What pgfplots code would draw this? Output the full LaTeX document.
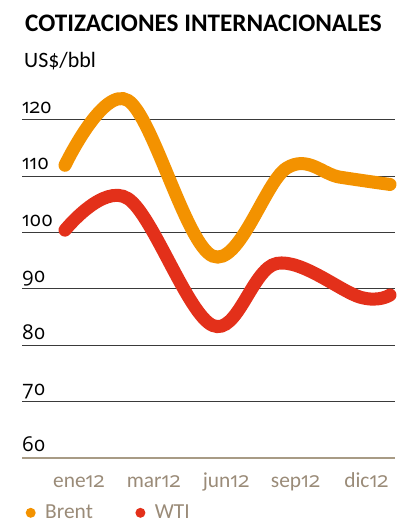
\documentclass[border=0pt]{standalone}
\usepackage{pgfplots}
\pgfplotsset{compat=1.18}
\usepackage{fontspec}
\setmainfont{Carlito}
\newfontfamily\osfa{Open Sans}[Numbers=OldStyle]
\definecolor{brent}{HTML}{F39200}
\definecolor{wti}{HTML}{E3301A}
\definecolor{tan}{HTML}{9A8B78}
\definecolor{tanline}{HTML}{A89B85}
\definecolor{gridc}{HTML}{3A3A3A}
\begin{document}
\begin{tikzpicture}[x=1bp,y=1bp]
\useasboundingbox (0,0) rectangle (398,525);
\node[anchor=base west,inner sep=0,font=\fontsize{25.3}{26}\selectfont\bfseries] at (25,493) {COTIZACIONES INTERNACIONALES};
\node[anchor=base west,inner sep=0,font=\fontsize{22}{24}\selectfont] at (24,457) {US\$/bbl};
\begin{axis}[
  at={(22bp,67bp)}, anchor=south west,
  scale only axis, width=373bp, height=366.6bp,
  xmin=-1.455, xmax=11.17, ymin=60, ymax=125,
  axis line style={draw=none},
  ytick={60,70,80,90,100,110,120},
  ymajorgrids, major grid style={gridc, line width=0.8bp},
  major tick length=0pt,
  yticklabel style={anchor=base west, inner sep=0pt, xshift=0bp, yshift=6bp, font=\osfa\fontsize{20.5}{22}\selectfont, text=black},
  yticklabel={\pgfmathprintnumber[assume math mode=true]{\tick}},
  xtick={0.47,3.0,5.45,7.8,10.2},
  xticklabels={ene{\osfa 12},mar{\osfa 12},jun{\osfa 12},sep{\osfa 12},dic{\osfa 12}},
  xticklabel style={anchor=base, inner sep=0pt, yshift=-30bp, font=\fontsize{21.5}{22}\selectfont, text=tan},
  clip=false,
  legend columns=2,
  legend style={draw=none, fill=none, at={(0,0)}, anchor=north west, xshift=-3bp, yshift=-45bp, font=\fontsize{21.5}{22}\selectfont, nodes={text=tan}, inner sep=0pt, /tikz/every even column/.append style={column sep=34bp}},
  legend image code/.code={\path (-5bp,0bp) (6bp,0bp); \fill[#1, draw=none] (0bp,0bp) circle (5bp);},
]
\addplot[tanline, line width=2.2bp, forget plot] coordinates {(-1.455,60) (11.17,60)};
\addplot[brent, line width=13bp, smooth, tension=0.6, line cap=round] coordinates {
(0,111.9) (2.13,123.4) (5.0,95.8) (7.5,111.4) (9.3,109.8) (11,108.5)};
\addplot[wti, line width=13bp, smooth, tension=0.6, line cap=round] coordinates {
(0,100.4) (2.13,106.0) (5.0,83.5) (7.17,94.5) (10,88.5) (11,88.9)};
\legend{Brent,WTI}
\end{axis}
\end{tikzpicture}
\end{document}
